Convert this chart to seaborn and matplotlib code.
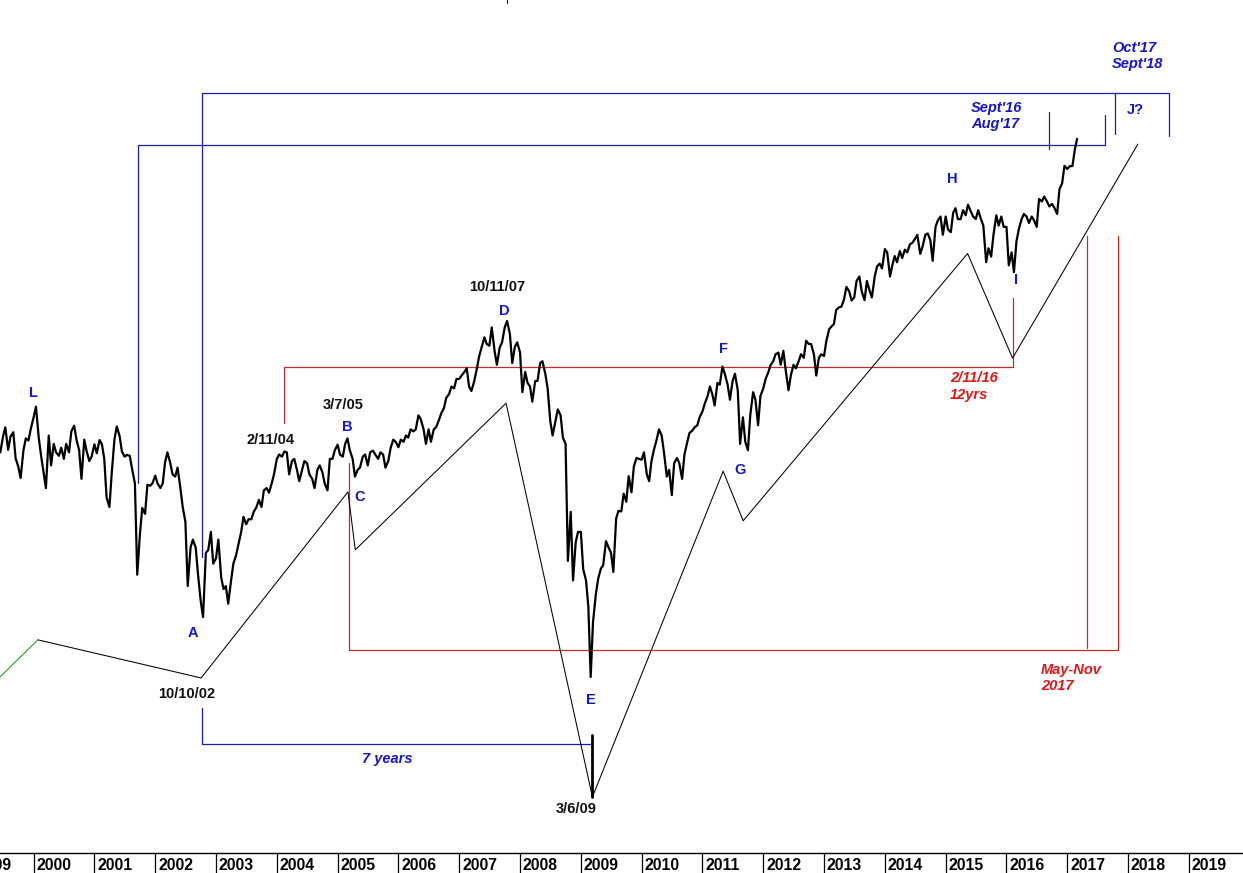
import numpy as np
import pandas as pd
import matplotlib
matplotlib.use("Agg")
import matplotlib.pyplot as plt
import seaborn as sns
from matplotlib import font_manager
from matplotlib.ticker import NullLocator

# ---------------- data (index level, semi-monthly readings) ----------------
close_1999 = [10600, 10970, 11200, 10660, 10970, 11080, 10460, 10270, 10020, 10650, 10930, 10880, 11160]
close_2000 = [11450, 11720, 10940, 10520, 10140, 9800, 11000, 10300, 10800, 10600, 10520, 10710,
              10450, 10800, 10600, 11100, 11240, 10900, 10650, 10000, 10900, 10630, 10400, 10500]
close_2001 = [10790, 10580, 10890, 10790, 10450, 9600, 9400, 10130, 10900, 11220, 10990, 10620,
              10500, 10540, 10520, 10220, 9900, 8100, 8850, 9380, 9260, 9870, 9850, 9900]
close_2002 = [10070, 9900, 9800, 9900, 10370, 10600, 10360, 10100, 10050, 10250, 9800, 9400,
              9100, 7900, 8600, 8750, 8600, 8100, 7650, 7380, 8500, 8550, 8900, 8300]
close_2003 = [8400, 8750, 8050, 7850, 7900, 7600, 7990, 8300, 8450, 8650, 8900, 9200,
              9050, 9150, 9150, 9300, 9400, 9550, 9400, 9750, 9800, 9700, 9900, 10100]
close_2004 = [10450, 10550, 10500, 10620, 10600, 10100, 10400, 10450, 10200, 9950, 10200, 10400,
              10350, 10100, 10000, 9800, 10200, 10300, 10150, 9900, 9750, 10450, 10450, 10650]
close_2005 = [10780, 10550, 10500, 10800, 10930, 10650, 10450, 10050, 10200, 10250, 10500, 10550,
              10300, 10600, 10640, 10550, 10450, 10600, 10550, 10250, 10400, 10700, 10900, 10850]
close_2006 = [10720, 10900, 10850, 11000, 10950, 11150, 11100, 11150, 11500, 11400, 11150, 10800,
              11150, 10850, 11150, 11200, 11380, 11550, 11680, 11950, 12050, 12250, 12200, 12450]
close_2007 = [12460, 12550, 12650, 12750, 12250, 12130, 12400, 12700, 13100, 13350, 13650, 13450,
              13400, 13950, 13250, 12850, 13350, 13500, 13950, 14150, 13750, 12900, 13370, 13500]
close_2008 = [13200, 12100, 12650, 12350, 12250, 11850, 12400, 12400, 12900, 12950, 12600, 12200,
              11350, 11000, 11350, 11650, 11500, 10950, 10800, 8350, 9300, 8000, 8700, 8900]
close_2009 = [8900, 8200, 8000, 7550, 6470, 7300, 7760, 8030, 8210, 8270, 8720, 8610,
              8500, 8150, 9170, 9320, 9310, 9680, 9510, 10060, 9710, 10270, 10470, 10450]
close_2010 = [10430, 10600, 10100, 9950, 10400, 10650, 10900, 11150, 11000, 10600, 10050, 10200,
              9650, 10350, 10470, 10350, 10000, 10550, 10830, 11060, 11120, 11200, 11250, 11450]
close_2011 = [11600, 11800, 12000, 12250, 12050, 11750, 12350, 12300, 12800, 12600, 12300, 11900,
              12400, 12600, 12150, 10800, 11450, 10850, 10650, 11500, 12100, 11900, 11250, 12000]
close_2012 = [12200, 12450, 12650, 12850, 12950, 13150, 13200, 12850, 13250, 12700, 12150, 12550,
              12850, 12750, 12950, 13150, 13050, 13550, 13450, 13450, 13150, 12550, 13050, 13150]
close_2013 = [13100, 13550, 13900, 13980, 14050, 14500, 14580, 14600, 14840, 15250, 15100, 14800,
              14900, 15450, 15600, 15100, 14810, 15450, 15130, 14900, 15600, 15950, 16050, 15880]
close_2014 = [16570, 16450, 15600, 16000, 16320, 16100, 16500, 16250, 16550, 16450, 16750, 16800,
              16950, 17100, 16400, 16650, 17100, 17150, 16900, 16150, 17400, 17650, 17800, 17100]
close_2015 = [17800, 17300, 17200, 17950, 18130, 17700, 17700, 18050, 17850, 18270, 18000, 17800,
              17700, 18050, 17700, 17450, 16100, 16600, 16300, 17100, 17850, 17450, 17800, 17400]
close_2016 = [17400, 15990, 16450, 15750, 16850, 17300, 17700, 17900, 17800, 17550, 17800, 17650,
              17400, 18500, 18400, 18600, 18400, 18200, 18300, 18150, 17900, 18900, 19150, 19900]
close_2017 = [19760, 19880, 19890, 20610, 21115]

year_chunks = [("1999-06-15", close_1999), ("2000-01-01", close_2000), ("2001-01-01", close_2001),
               ("2002-01-01", close_2002), ("2003-01-01", close_2003), ("2004-01-01", close_2004),
               ("2005-01-01", close_2005), ("2006-01-01", close_2006), ("2007-01-01", close_2007),
               ("2008-01-01", close_2008), ("2009-01-01", close_2009), ("2010-01-01", close_2010),
               ("2011-01-01", close_2011), ("2012-01-01", close_2012), ("2013-01-01", close_2013),
               ("2014-01-01", close_2014), ("2015-01-01", close_2015), ("2016-01-01", close_2016),
               ("2017-01-01", close_2017)]

years = list(range(1999, 2020))

# wave-pattern guide (time in years, index level)
wave_t = [2000.07, 2002.755, 2005.17, 2005.29, 2007.77, 2009.19, 2011.34, 2011.67, 2015.36, 2016.10, 2018.16]
wave_v = [7020, 6456, 9718, 8556, 11810, 4970, 10170, 9120, 16410, 13040, 20870]
green_t = [1999.447, 2000.07]
green_v = [6470, 7020]

# wave labels
wave_labels = ["L", "A", "B", "C", "D", "E", "F", "G", "H", "I", "J?"]
wave_label_t = [1999.99, 2002.62, 2005.15, 2005.37, 2007.74, 2009.16, 2011.34, 2011.62, 2015.11, 2016.16, 2018.12]
wave_label_v = [12070, 7130, 11200, 9612, 14470, 6150, 13300, 10190, 19320, 15490, 22490]

# date labels
date_labels = ["10/10/02", "2/11/04", "3/7/05", "10/11/07", "3/6/09"]
date_label_t = [2002.51, 2003.89, 2005.09, 2007.62, 2008.92]
date_label_v = [6230, 10890, 11760, 15250, 4841]

# time-cycle boxes
blue_box1_t = [2002.77, 2002.77, 2018.67, 2018.67]
blue_box1_v = [8430, 23350, 23350, 21240]
blue_box1_inner_t = 2017.79
blue_box1_inner_v = [23350, 21340]
blue_box2_t = [2001.72, 2001.72, 2017.62]
blue_box2_v = [9910, 20820, 20820]
blue_box2_right_v = [22240, 20820]
blue_mark_t = 2016.70
blue_mark_v = [22390, 20640]
seven_t = [2002.77, 2002.77, 2009.19]
seven_v = [6043, 5585, 5585]
e_mark_t = 2009.19
e_mark_v = [5695, 4970]
top_mark_t = 2007.78
top_mark_v = [28650, 28440]

red_box1_t = [2004.11, 2004.11, 2016.11, 2016.11]
red_box1_v = [11300, 12790, 12790, 14890]
red_box2_t = [2005.18, 2005.18, 2017.84, 2017.84]
red_box2_v = [10350, 6865, 6865, 17040]
red_may_t = 2017.33
red_may_v = [17040, 6890]

# ---------------- style ----------------
sns.set_theme(style="white")
names = {f.name for f in font_manager.fontManager.ttflist}
base_font = "Liberation Sans" if "Liberation Sans" in names else "DejaVu Sans"
narrow_font = "Liberation Sans Narrow" if "Liberation Sans Narrow" in names else base_font
plt.rcParams["font.family"] = [base_font, "DejaVu Sans"]
year_size = 12 if narrow_font != base_font else 11.3

BLUE_LINE = "#1c1ca6"
BLUE_TXT = "#1616c8"
RED_LINE = "#c42a2a"
RED_TXT = "#e01818"
GREEN = "#1e9a1e"


def dec_year(dates):
    dates = pd.DatetimeIndex(dates)
    days = np.where(dates.is_leap_year, 366.0, 365.0)
    return np.asarray(dates.year + (dates.dayofyear - 1) / days, dtype=float)


frames = []
for start, vals in year_chunks:
    d = pd.date_range(start, periods=len(vals), freq="SMS")
    frames.append(pd.DataFrame({"date": d, "close": vals}))
df = pd.concat(frames, ignore_index=True)
df["t"] = dec_year(df["date"])

fig = plt.figure(figsize=(12.43, 8.73), dpi=100, facecolor="white")
ax = fig.add_axes([0, 20 / 873, 1, 853 / 873])
ax.set_facecolor("white")
ax.set_yscale("log")

lw_thin = 0.9
# blue time boxes
ax.plot(blue_box1_t, blue_box1_v, color=BLUE_LINE, lw=lw_thin)
ax.plot([blue_box1_inner_t] * 2, blue_box1_inner_v, color=BLUE_LINE, lw=lw_thin)
ax.plot(blue_box2_t, blue_box2_v, color=BLUE_LINE, lw=lw_thin)
ax.plot([blue_box2_t[-1]] * 2, blue_box2_right_v, color=BLUE_LINE, lw=lw_thin)
ax.plot([blue_mark_t] * 2, blue_mark_v, color=BLUE_LINE, lw=lw_thin)
ax.plot(seven_t, seven_v, color=BLUE_LINE, lw=lw_thin)
# red boxes
ax.plot(red_box1_t, red_box1_v, color=RED_LINE, lw=lw_thin)
ax.plot(red_box2_t, red_box2_v, color=RED_LINE, lw=lw_thin)
ax.plot([red_may_t] * 2, red_may_v, color=RED_LINE, lw=lw_thin)
# wave guide
ax.plot(wave_t, wave_v, color="black", lw=0.75)
ax.plot(green_t, green_v, color=GREEN, lw=0.75)
ax.plot([e_mark_t] * 2, e_mark_v, color="black", lw=2.0)
ax.plot([top_mark_t] * 2, top_mark_v, color="black", lw=0.8)

# price line
sns.lineplot(data=df, x="t", y="close", ax=ax, color="black", lw=1.6,
             estimator=None, sort=False, zorder=3)

for s, t, v in zip(wave_labels, wave_label_t, wave_label_v):
    ax.text(t, v, s, ha="center", va="center", color=BLUE_TXT, fontsize=10.5, fontweight="bold", zorder=4)
for s, t, v in zip(date_labels, date_label_t, date_label_v):
    ax.text(t, v, s, ha="center", va="center", color="#111111", fontsize=10.5, fontweight="bold", zorder=4)

ital = dict(fontstyle="italic", fontweight="bold", fontsize=10.5, va="center", linespacing=1.2, zorder=4)
ax.text(2005.81, 5401, "7 years", ha="center", color=BLUE_TXT, **ital)
ax.text(2015.42, 22190, "Sept'16\nAug'17", ha="left", color=BLUE_TXT, **ital)
ax.text(2017.74, 25350, "Oct'17\nSept'18", ha="left", color=BLUE_TXT, **ital)
ax.text(2015.07, 12250, "2/11/16\n12yrs", ha="left", color=RED_TXT, **ital)
ax.text(2016.57, 6455, "May-Nov\n2017", ha="left", color=RED_TXT, **ital)

# axes styling
for side in ["top", "left", "right"]:
    ax.spines[side].set_visible(False)
ax.spines["bottom"].set_color("black")
ax.spines["bottom"].set_linewidth(1.0)
ax.yaxis.set_major_locator(NullLocator())
ax.yaxis.set_minor_locator(NullLocator())
ax.xaxis.set_minor_locator(NullLocator())
ax.set_xticks(years)
ax.tick_params(axis="x", length=14.5, width=0.9, direction="out", color="black",
               labelbottom=False, bottom=True)
ax.tick_params(axis="y", left=False, right=False, labelleft=False)
ax.set_xlabel("")
ax.set_ylabel("")
# limits last (set_xticks would otherwise widen the view)
ax.set_xlim(1999.447, 2019.89)
ax.set_ylim(4394, 28650)

for yr in years:
    ax.annotate(str(yr), xy=(yr, 0), xycoords=("data", "axes fraction"),
                xytext=(2.0, -3.8), textcoords="offset points", ha="left", va="top",
                fontsize=year_size, fontweight="bold", family=[narrow_font, "DejaVu Sans"],
                color="black", annotation_clip=False)

fig.savefig("out.png", dpi=100, facecolor="white")
